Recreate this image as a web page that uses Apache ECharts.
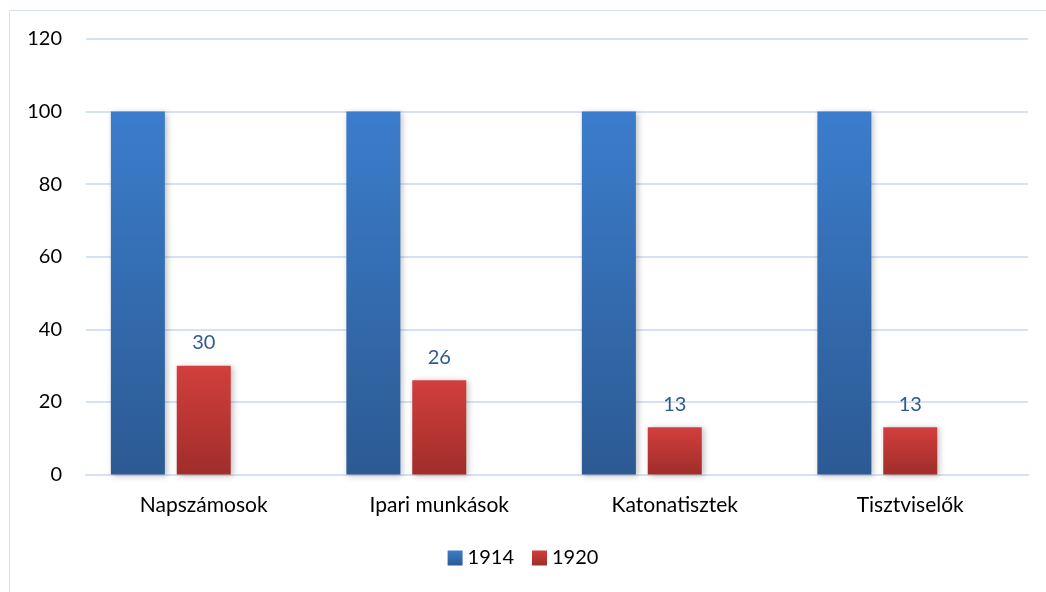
<!DOCTYPE html>
<html><head><meta charset="utf-8">
<script src="https://cdn.jsdelivr.net/npm/echarts@6/dist/echarts.min.js"></script>
<style>html,body{margin:0;padding:0;background:#fff}#c{width:1046px;height:592px}</style>
</head><body><div id="c"></div>
<script>
const categories = ['Napszámosok', 'Ipari munkások', 'Katonatisztek', 'Tisztviselők'];
const values1914 = [100, 100, 100, 100];
const values1920 = [30, 26, 13, 13];
const yTicks = {min: 0, max: 120, interval: 20};

const chart = echarts.init(document.getElementById('c'));
const font = 'Lato, "Open Sans", sans-serif';
function grad(top, bottom) {
  return new echarts.graphic.LinearGradient(0, 0, 0, 1, [{offset: 0, color: top}, {offset: 1, color: bottom}]);
}
chart.setOption({
  animation: false,
  graphic: [{type: 'rect', shape: {x: 9.5, y: 10.5, width: 1200, height: 800}, style: {fill: 'none', stroke: '#d5e2f4', lineWidth: 1}, silent: true}],
  grid: {left: 86, right: 18, top: 39, bottom: 117.5},
  legend: {
    bottom: 19, left: 'center', itemWidth: 15, itemHeight: 15, itemGap: 18,
    data: [{name: '1914', icon: 'rect'}, {name: '1920', icon: 'rect'}],
    textStyle: {fontFamily: font, fontSize: 20, color: '#000'}
  },
  xAxis: {
    type: 'category', data: categories,
    axisLine: {lineStyle: {color: '#d6e2f3', width: 2}}, axisTick: {show: false},
    axisLabel: {fontFamily: font, fontSize: 21, color: '#000', margin: 20}
  },
  yAxis: {
    type: 'value', min: yTicks.min, max: yTicks.max, interval: yTicks.interval,
    axisLine: {show: false}, axisTick: {show: false},
    splitLine: {lineStyle: {color: '#d6e2f3', width: 2}},
    axisLabel: {fontFamily: font, fontSize: 20, color: '#000', margin: 24}
  },
  series: [
    {name: '1914', type: 'bar', data: values1914, barWidth: 54, barGap: '22%',
     itemStyle: {color: grad('#3b7dcc', '#2c5a93'), shadowColor: 'rgba(0,0,0,0.25)', shadowBlur: 6, shadowOffsetX: 2, shadowOffsetY: 1}},
    {name: '1920', type: 'bar', data: values1920, barWidth: 54,
     itemStyle: {color: grad('#d23f3c', '#a02d2b'), shadowColor: 'rgba(0,0,0,0.25)', shadowBlur: 6, shadowOffsetX: 2, shadowOffsetY: 1},
     label: {show: true, position: 'top', distance: 13, fontFamily: font, fontSize: 20, color: '#2f5a91'}},
    {name: 'spacer', type: 'bar', data: [], barWidth: 54}
  ]
});
</script></body></html>
